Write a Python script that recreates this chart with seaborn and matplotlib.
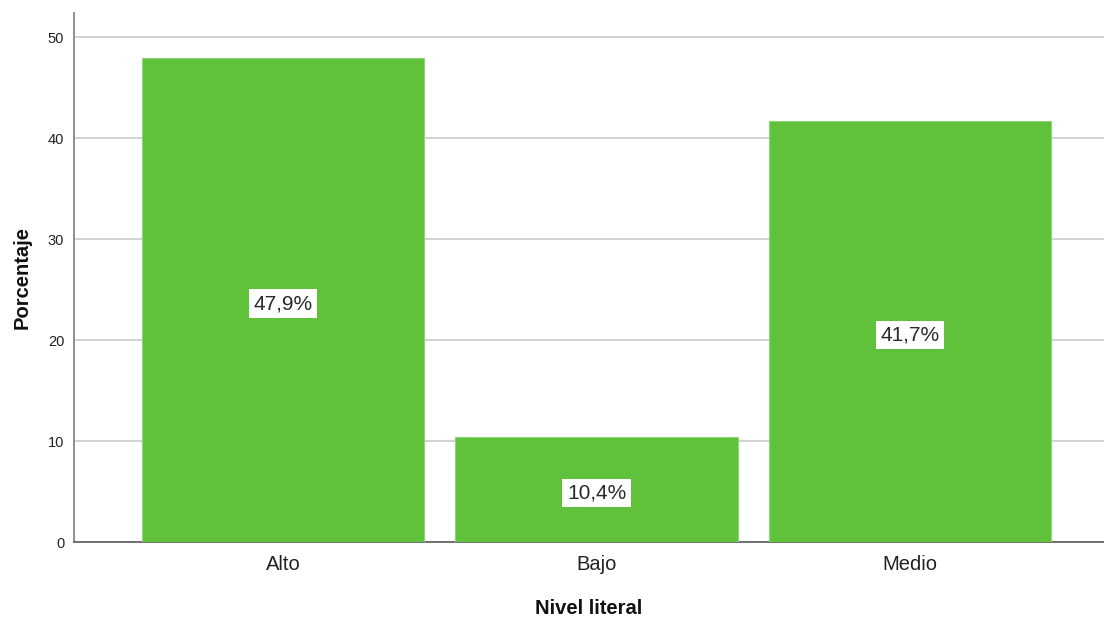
import matplotlib
matplotlib.use("Agg")
import matplotlib.pyplot as plt
import seaborn as sns
import pandas as pd

categories = ["Alto", "Bajo", "Medio"]
percentages = [47.9, 10.4, 41.7]
value_labels = ["47,9%", "10,4%", "41,7%"]

sns.set_theme(style="white")
plt.rcParams['font.family'] = ['Liberation Sans', 'DejaVu Sans']

df = pd.DataFrame({"Nivel literal": categories, "Porcentaje": percentages})

fig = plt.figure(figsize=(11.04, 6.18), dpi=100)
ax = fig.add_axes([74/1104, 1-542/618, (1104-74)/1104, (542-13)/618])

sns.barplot(data=df, x="Nivel literal", y="Porcentaje", color="#5FC23A",
            saturation=1, width=0.9, edgecolor="#8FD47A", linewidth=0.8,
            ax=ax, zorder=3)

ax.set_xlim(-0.667, 2.619)
ax.set_ylim(0, 52.4)
ax.set_yticks([0, 10, 20, 30, 40, 50])
ax.yaxis.grid(True, color="#CFCFCF", linewidth=1.3, zorder=0)
ax.set_axisbelow(True)

for s in ["top", "right"]:
    ax.spines[s].set_visible(False)
for s in ["left", "bottom"]:
    ax.spines[s].set_color("#888888")
    ax.spines[s].set_linewidth(1.3)
ax.spines["bottom"].set_color("#666666")

ax.tick_params(axis="y", labelsize=10.5, length=0, pad=7, labelcolor="#222222")
ax.tick_params(axis="x", labelsize=14.5, length=0, pad=9, labelcolor="#222222")

ax.set_xlabel("Nivel literal", fontsize=14.5, fontweight="bold", labelpad=18, color="#111111")
ax.set_ylabel("Porcentaje", fontsize=14.5, fontweight="bold", labelpad=12, color="#111111")

for i, (v, lab) in enumerate(zip(percentages, value_labels)):
    ax.text(i, v/2 - 0.35, lab, ha="center", va="center", fontsize=15, color="#2a2a2a",
            bbox=dict(facecolor="white", edgecolor="none", pad=3.5), zorder=5)

fig.savefig("out.png", dpi=100)
